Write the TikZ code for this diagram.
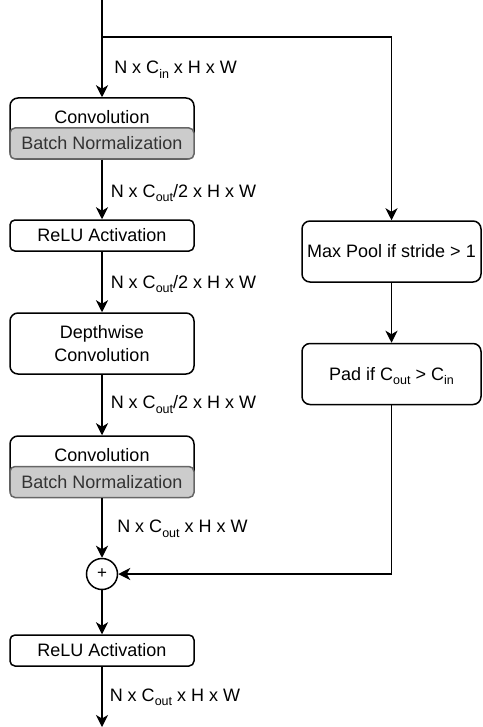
\documentclass[tikz,border=0pt]{standalone}
\usepackage{fontspec}
\setmainfont{Liberation Sans}
\usetikzlibrary{arrows.meta}

\definecolor{bnfill}{HTML}{CCCCCC}
\definecolor{bnline}{HTML}{666666}
\definecolor{bntext}{HTML}{333333}

% lowered, smaller text for channel subscripts
\newcommand\lowsub[1]{\raisebox{-4.5pt}{\fontsize{12.5}{12.5}\selectfont #1}}

\begin{document}
\begin{tikzpicture}[x=1pt, y=-1pt, line width=1.5pt,
  >={Stealth[length=12pt,width=12pt,inset=3.5pt]},
  every node/.style={font=\fontsize{18}{22}\selectfont, inner sep=0pt},
  capmid/.style={text height=12.9pt, text depth=0pt},
  block/.style={draw, rounded corners=8pt, minimum width=184pt, minimum height=61pt},
  thinblock/.style={draw, rounded corners=5pt, minimum width=184pt, minimum height=31pt, capmid},
  bnbox/.style={draw=bnline, fill=bnfill, text=bntext, rounded corners=5pt,
                minimum width=184pt, minimum height=31pt, capmid},
  sidebox/.style={block, minimum width=179pt, capmid},
  dimlabel/.style={anchor=west, capmid}]

\fill[white] (0,0) rectangle (482,727);
\useasboundingbox (0,0) rectangle (482,727);

% main path
\node[block] (conv1) at (102,128.5) {};
\node[bnbox] (bn1) at (102,143.5) {Batch Normalization};
\node[capmid] (conv1txt) at (102,117) {Convolution};

\node[thinblock] (relu1) at (102,235.5) {ReLU Activation};

\node[block] (dw) at (102,343.5) {};
\node[capmid] (dwtxta) at (102,332.5) {Depthwise};
\node[capmid] (dwtxtb) at (102,355) {Convolution};

\node[block] (conv2) at (102,466.5) {};
\node[bnbox] (bn2) at (102,482) {Batch Normalization};
\node[capmid] (conv2txt) at (102,455) {Convolution};

\node[draw, circle, minimum size=31pt, font=\fontsize{17}{17}\selectfont] (add) at (102,574) {+};

\node[thinblock] (relu2) at (102,650.5) {ReLU Activation};

% shortcut path
\node[sidebox] (pool) at (391.5,251.5) {Max Pool if stride > 1};
\node[sidebox] (pad) at (391.5,374) {Pad if C\lowsub{out} > C\lowsub{in}};

\coordinate (top) at (102,0);
\coordinate (split) at (102,37);
\coordinate (bottom) at (102,727);

% connectors
\draw[->] (top) -- (conv1.north);
\draw[->] (split) -| (pool.north);
\draw[->] (bn1.south) -- (relu1.north);
\draw[->] (relu1.south) -- (dw.north);
\draw[->] (dw.south) -- (conv2.north);
\draw[->] (bn2.south) -- (add.north);
\draw[->] (add.south) -- (relu2.north);
\draw[->] (relu2.south) -- (bottom);
\draw[->] (pool.south) -- (pad.north);
\draw[->] (pad.south) |- (add.east);

% tensor shapes
\node[dimlabel] (s1) at (113.5,67.5) {N x C\lowsub{in} x H x W};
\node[dimlabel] (s2) at (110,191) {N x C\lowsub{out}/2 x H x W};
\node[dimlabel] (s3) at (110,282) {N x C\lowsub{out}/2 x H x W};
\node[dimlabel] (s4) at (110,402.5) {N x C\lowsub{out}/2 x H x W};
\node[dimlabel] (s5) at (116.5,526.5) {N x C\lowsub{out} x H x W};
\node[dimlabel] (s6) at (109,695) {N x C\lowsub{out} x H x W};

\end{tikzpicture}
\end{document}
